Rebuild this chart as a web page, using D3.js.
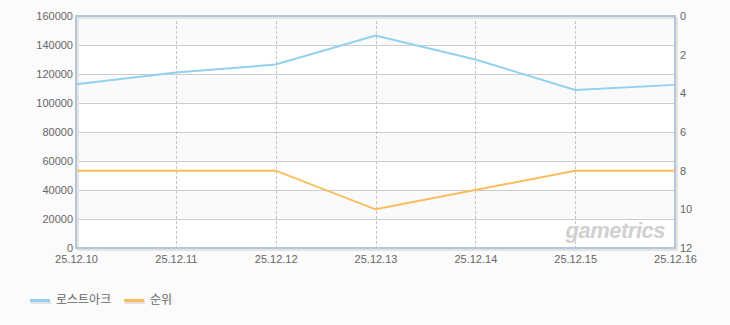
<!DOCTYPE html>
<html>
<head>
<meta charset="utf-8">
<script src="https://cdn.jsdelivr.net/npm/d3@7"></script>
<style>
  html, body { margin: 0; padding: 0; background: #fbfbfb; }
  svg { display: block; font-family: "Liberation Sans", "Noto Sans CJK KR", sans-serif; }
  .tick text { fill: #666; font-size: 11px; }
</style>
</head>
<body>
<svg id="chart" width="730" height="325"></svg>
<script>
const dates = ["25.12.10", "25.12.11", "25.12.12", "25.12.13", "25.12.14", "25.12.15", "25.12.16"];
const players = [113000, 121000, 126500, 146500, 130000, 109000, 112500];
const ranks = [8, 8, 8, 10, 9, 8, 8];
const leftTicks = [0, 20000, 40000, 60000, 80000, 100000, 120000, 140000, 160000];
const rightTicks = [0, 2, 4, 6, 8, 10, 12];
const legendNames = ["로스트아크", "순위"];

const margin = { top: 16, right: 55, bottom: 77, left: 76 };
const width = 730, height = 325;
const w = width - margin.left - margin.right;
const h = height - margin.top - margin.bottom;

const svg = d3.select("#chart");

const x = d3.scalePoint().domain(dates).range([0, w]);
const yL = d3.scaleLinear().domain([0, 160000]).range([h, 0]);
const yR = d3.scaleLinear().domain([0, 12]).range([0, h]);

const g = svg.append("g").attr("transform", `translate(${margin.left},${margin.top})`);

// alternating bands
const bands = d3.pairs(leftTicks);
g.selectAll("rect.band").data(bands).join("rect")
  .attr("x", 0).attr("width", w)
  .attr("y", d => yL(d[1])).attr("height", d => yL(d[0]) - yL(d[1]))
  .attr("fill", (d, i) => i % 2 ? "#fafafa" : "#ffffff");

// horizontal grid
g.selectAll("line.hgrid").data(leftTicks).join("line")
  .attr("x1", 0).attr("x2", w)
  .attr("y1", d => Math.round(yL(d)) + 0.5).attr("y2", d => Math.round(yL(d)) + 0.5)
  .attr("stroke", "#cccccc");

// vertical dashed grid
g.selectAll("line.vgrid").data(dates).join("line")
  .attr("x1", d => Math.round(x(d)) + 0.5).attr("x2", d => Math.round(x(d)) + 0.5)
  .attr("y1", 0).attr("y2", h)
  .attr("stroke", "#c4c4c4").attr("stroke-dasharray", "3,2");

// watermark
g.append("text")
  .attr("x", w - 10).attr("y", h - 10)
  .attr("text-anchor", "end")
  .attr("font-size", 22).attr("font-weight", "bold").attr("font-style", "italic")
  .attr("fill", "#d0d0d0").attr("letter-spacing", "-0.5")
  .text("gametrics");

// shadow + frame
g.append("rect").attr("x", 2).attr("y", 2).attr("width", w).attr("height", h)
  .attr("fill", "none").attr("stroke", "#e4e4e4").attr("stroke-width", 2);
g.append("rect").attr("x", 0).attr("y", 0).attr("width", w).attr("height", h)
  .attr("fill", "none").attr("stroke", "#b4c6d8").attr("stroke-width", 2);

// axes
const axL = g.append("g")
  .call(d3.axisLeft(yL).tickValues(leftTicks).tickSize(0).tickPadding(3).tickFormat(d3.format("d")));
const axR = g.append("g").attr("transform", `translate(${w},0)`)
  .call(d3.axisRight(yR).tickValues(rightTicks).tickSize(0).tickPadding(5));
const axB = g.append("g").attr("transform", `translate(0,${h})`)
  .call(d3.axisBottom(x).tickSize(0).tickPadding(7));
[axL, axR, axB].forEach(a => a.select(".domain").remove());
axL.selectAll("text").attr("font-size", 11);

// lines
const lineL = d3.line().x((d, i) => x(dates[i])).y(d => yL(d));
const lineR = d3.line().x((d, i) => x(dates[i])).y(d => yR(d));

g.append("path").datum(players).attr("d", lineL)
  .attr("fill", "none").attr("stroke", "#92d0f0").attr("stroke-width", 2);
g.append("path").datum(ranks).attr("d", lineR)
  .attr("fill", "none").attr("stroke", "#fbbd5c").attr("stroke-width", 2);

// legend
const colors = ["#92d0f0", "#fbbd5c"];
const legX = [30, 124];
const leg = svg.append("g").attr("transform", "translate(0,301)");
legendNames.forEach((n, i) => {
  leg.append("rect").attr("x", legX[i] + 1).attr("y", 0).attr("width", 20).attr("height", 3).attr("fill", "#e2e2e2");
  leg.append("rect").attr("x", legX[i]).attr("y", -2).attr("width", 20).attr("height", 3).attr("fill", colors[i]);
  leg.append("text").attr("x", legX[i] + 26).attr("y", 3)
    .attr("font-size", 12).attr("fill", "#666").text(n);
});
</script>
</body>
</html>
